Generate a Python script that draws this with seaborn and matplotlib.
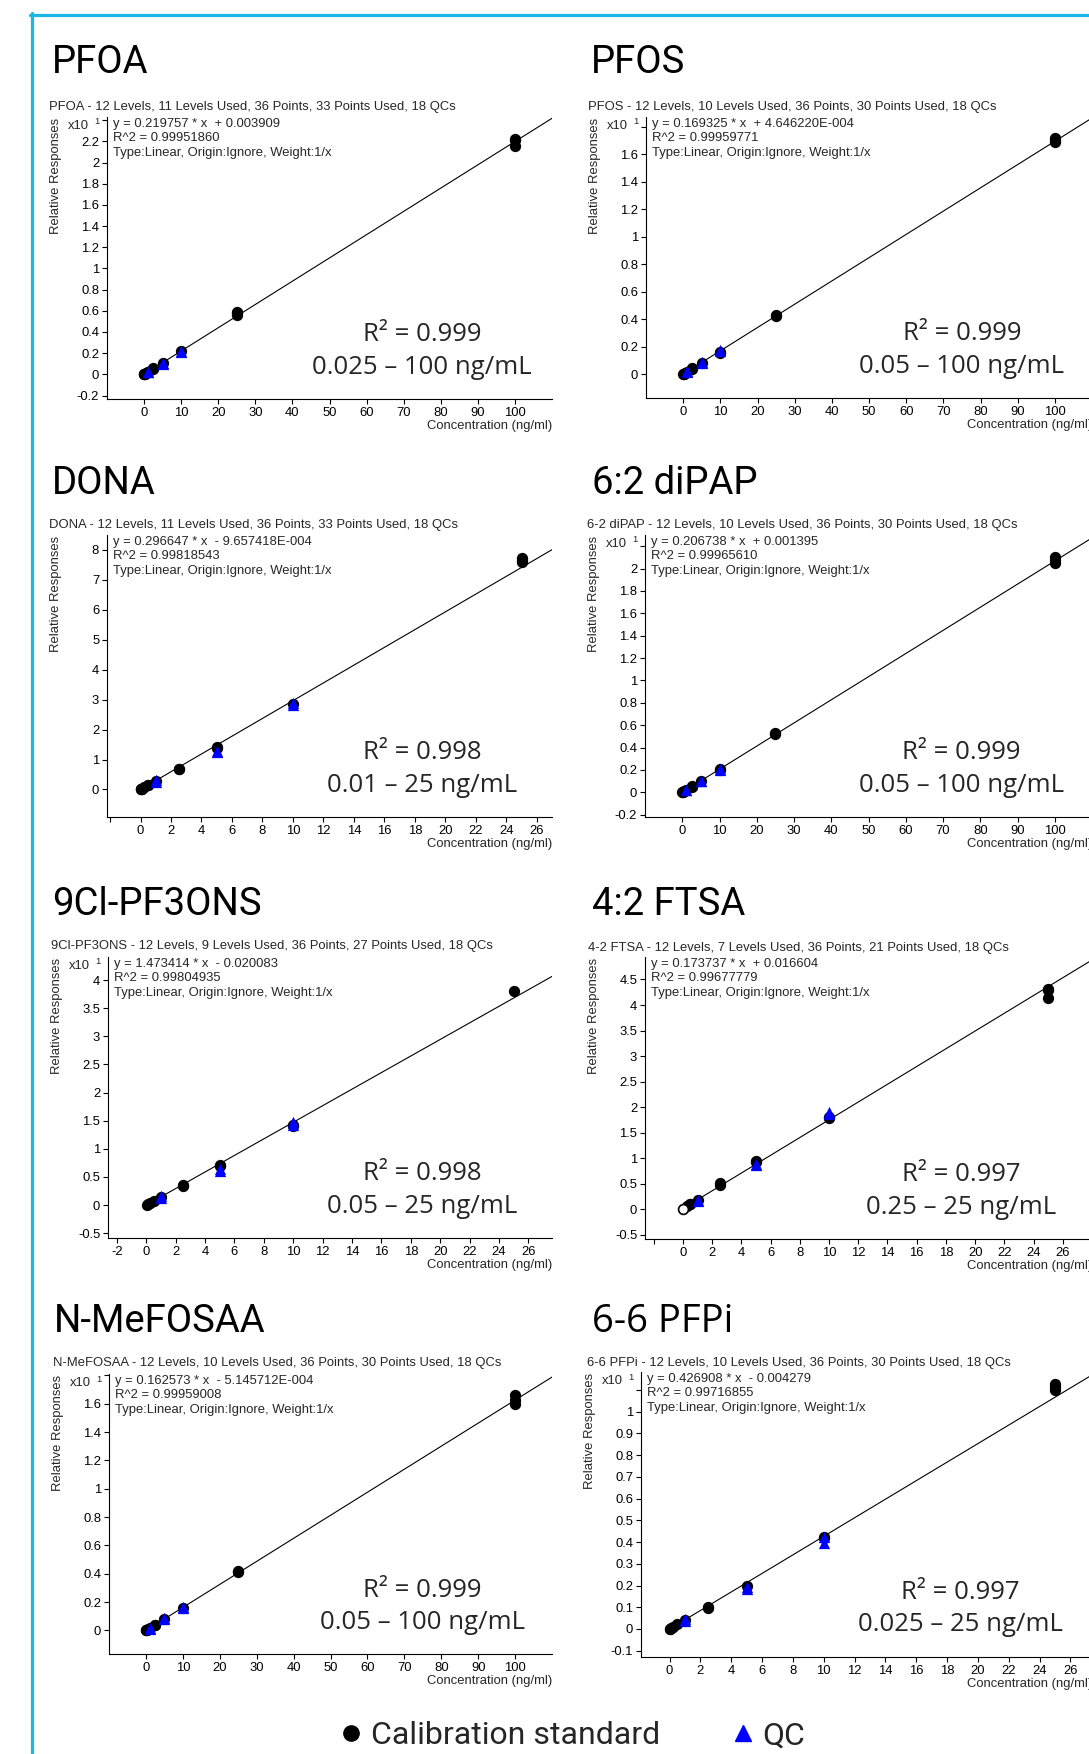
import matplotlib
matplotlib.use("Agg")
import matplotlib.pyplot as plt
from matplotlib.lines import Line2D
import numpy as np
import pandas as pd
import seaborn as sns

W, H = 1089, 1754

# ---------------------------------------------------------------------------
# data (responses in displayed units, i.e. already divided by 10**exponent)
# ---------------------------------------------------------------------------
compounds = ["PFOA", "PFOS", "DONA", "6:2 diPAP",
             "9Cl-PF3ONS", "4:2 FTSA", "N-MeFOSAA", "6-6 PFPi"]
report_names = ["PFOA", "PFOS", "DONA", "6-2 diPAP",
                "9Cl-PF3ONS", "4-2 FTSA", "N-MeFOSAA", "6-6 PFPi"]
levels_used = [11, 10, 11, 10, 9, 7, 10, 10]
points_used = [33, 30, 33, 30, 27, 21, 30, 30]
slopes = [0.219757, 0.169325, 0.296647, 0.206738,
          1.473414, 0.173737, 0.162573, 0.426908]
intercepts = [0.003909, 4.646220e-004, -9.657418e-004, 0.001395,
              -0.020083, 0.016604, -5.145712e-004, -0.004279]
intercept_text = ["+ 0.003909", "+ 4.646220E-004", "- 9.657418E-004", "+ 0.001395",
                  "- 0.020083", "+ 0.016604", "- 5.145712E-004", "- 0.004279"]
r2_full = ["0.99951860", "0.99959771", "0.99818543", "0.99965610",
           "0.99804935", "0.99677779", "0.99959008", "0.99716855"]
r2_short = ["0.999", "0.999", "0.998", "0.999", "0.998", "0.997", "0.999", "0.997"]
ranges = ["0.025 \u2013 100 ng/mL", "0.05 \u2013 100 ng/mL", "0.01 \u2013 25 ng/mL",
          "0.05 \u2013 100 ng/mL", "0.05 \u2013 25 ng/mL", "0.25 \u2013 25 ng/mL",
          "0.05 \u2013 100 ng/mL", "0.025 \u2013 25 ng/mL"]
y_exponent = [1, 1, 0, 1, 1, 0, 1, 1]

pfoa_cal_x = [0.025, 0.05, 0.1, 0.25, 0.5, 1, 1, 2.5, 2.5, 5, 10, 25, 25, 25, 100, 100, 100]
pfoa_cal_y = [0.001, 0.001, 0.002, 0.006, 0.011, 0.022, 0.023, 0.055, 0.057, 0.11, 0.22,
              0.56, 0.575, 0.585, 2.22, 2.21, 2.155]
pfoa_qc_x = [1, 1, 5, 5, 10, 10]
pfoa_qc_y = [0.021, 0.024, 0.100, 0.105, 0.212, 0.218]

pfos_cal_x = [0.05, 0.1, 0.25, 0.5, 1, 2.5, 2.5, 5, 10, 10, 25, 25, 100, 100, 100]
pfos_cal_y = [0.001, 0.002, 0.004, 0.008, 0.017, 0.040, 0.042, 0.083, 0.155, 0.160,
              0.425, 0.430, 1.715, 1.700, 1.685]
pfos_qc_x = [1, 1, 5, 5, 10, 10]
pfos_qc_y = [0.016, 0.020, 0.080, 0.085, 0.165, 0.172]

dona_cal_x = [0.01, 0.025, 0.05, 0.1, 0.25, 0.5, 0.5, 1, 2.5, 2.5, 5, 5, 10, 25, 25, 25]
dona_cal_y = [0.003, 0.007, 0.015, 0.03, 0.075, 0.14, 0.15, 0.29, 0.68, 0.70, 1.40, 1.42,
              2.86, 7.60, 7.68, 7.74]
dona_qc_x = [1, 1, 5, 5, 10, 10]
dona_qc_y = [0.25, 0.30, 1.26, 1.30, 2.82, 2.88]

dipap_cal_x = [0.05, 0.1, 0.25, 0.5, 1, 2.5, 2.5, 5, 10, 10, 25, 25, 100, 100, 100]
dipap_cal_y = [0.001, 0.002, 0.005, 0.010, 0.021, 0.052, 0.055, 0.103, 0.200, 0.205,
               0.520, 0.530, 2.100, 2.080, 2.050]
dipap_qc_x = [1, 1, 5, 5, 10, 10]
dipap_qc_y = [0.018, 0.025, 0.100, 0.105, 0.200, 0.212]

cl_cal_x = [0.05, 0.1, 0.25, 0.5, 1, 2.5, 2.5, 5, 5, 10, 10, 25]
cl_cal_y = [0.005, 0.012, 0.035, 0.07, 0.14, 0.345, 0.36, 0.70, 0.72, 1.40, 1.43, 3.80]
cl_qc_x = [1, 1, 5, 5, 10, 10]
cl_qc_y = [0.13, 0.16, 0.61, 0.64, 1.43, 1.47]

ftsa_cal_x = [0.25, 0.5, 0.5, 1, 2.5, 2.5, 5, 5, 10, 10, 25, 25, 25]
ftsa_cal_y = [0.06, 0.10, 0.11, 0.19, 0.48, 0.51, 0.92, 0.95, 1.79, 1.81, 4.32, 4.30, 4.14]
ftsa_qc_x = [1, 1, 5, 5, 10, 10]
ftsa_qc_y = [0.16, 0.19, 0.86, 0.89, 1.86, 1.90]
ftsa_excl_x = [0.025]
ftsa_excl_y = [0.002]

mefosaa_cal_x = [0.05, 0.1, 0.25, 0.5, 1, 2.5, 2.5, 5, 10, 25, 25, 100, 100, 100]
mefosaa_cal_y = [0.001, 0.002, 0.004, 0.008, 0.016, 0.038, 0.042, 0.080, 0.160,
                 0.410, 0.420, 1.665, 1.630, 1.600]
mefosaa_qc_x = [1, 1, 5, 5, 10, 10]
mefosaa_qc_y = [0.010, 0.018, 0.078, 0.085, 0.160, 0.168]

pfpi_cal_x = [0.025, 0.05, 0.1, 0.25, 0.5, 1, 2.5, 2.5, 5, 10, 10, 25, 25, 25]
pfpi_cal_y = [0.001, 0.002, 0.004, 0.010, 0.021, 0.042, 0.097, 0.102, 0.200, 0.420,
              0.425, 1.130, 1.115, 1.100]
pfpi_qc_x = [1, 1, 5, 5, 10, 10]
pfpi_qc_y = [0.038, 0.045, 0.183, 0.195, 0.395, 0.425]

cal_x = [pfoa_cal_x, pfos_cal_x, dona_cal_x, dipap_cal_x, cl_cal_x, ftsa_cal_x, mefosaa_cal_x, pfpi_cal_x]
cal_y = [pfoa_cal_y, pfos_cal_y, dona_cal_y, dipap_cal_y, cl_cal_y, ftsa_cal_y, mefosaa_cal_y, pfpi_cal_y]
qc_x = [pfoa_qc_x, pfos_qc_x, dona_qc_x, dipap_qc_x, cl_qc_x, ftsa_qc_x, mefosaa_qc_x, pfpi_qc_x]
qc_y = [pfoa_qc_y, pfos_qc_y, dona_qc_y, dipap_qc_y, cl_qc_y, ftsa_qc_y, mefosaa_qc_y, pfpi_qc_y]

# ---------------------------------------------------------------------------
# layout (pixels in the 1089 x 1754 canvas)
# ---------------------------------------------------------------------------
axes_box = [(107, 117, 552, 399), (646, 117, 1092, 398),
            (107, 535, 552, 817), (645, 535, 1092, 817),
            (108, 957, 552, 1238), (645, 957, 1092, 1239),
            (109, 1374, 552, 1654), (641, 1372, 1092, 1657)]
title_pos = [(52, 73), (591, 73), (52, 494), (592, 494),
             (52, 915), (592, 915), (54, 1332), (592, 1332)]
sub_pos = [(49, 110), (588, 110), (49, 528), (587, 528),
           (51, 949), (588, 951), (53, 1366), (587, 1366)]
xlims = [(-10, 110), (-10, 110), (-2.2, 27), (-10, 110),
         (-2.6, 27.6), (-2.6, 28), (-10, 110), (-1.85, 27.4)]
ylims = [(-0.233, 2.43), (-0.174, 1.87), (-0.92, 8.5), (-0.22, 2.30),
         (-0.586, 4.41), (-0.58, 4.94), (-0.166, 1.81), (-0.129, 1.183)]
xtick_spec = [(0, 100, 10), (0, 100, 10), (-2, 26, 2), (0, 100, 10),
              (-2, 26, 2), (-2, 26, 2), (0, 100, 10), (0, 26, 2)]
xtick_hide_first = [False, False, True, False, False, True, False, False]
ytick_spec = [(-0.2, 2.4, 0.2), (0, 1.8, 0.2), (0, 8, 1), (-0.2, 2.2, 0.2),
              (-0.5, 4, 0.5), (-0.5, 4.5, 0.5), (0, 1.8, 0.2), (-0.1, 1.1, 0.1)]
ytick_hide_top = [True, True, False, True, False, False, True, True]
title_fonts = [["Roboto"]] * 7 + [["Open Sans"]]

BORDER = "#19b6e6"
SMALL = ["Liberation Sans", "DejaVu Sans"]
SMALL_SIZE = 9.4

sns.set_style("ticks")
plt.rcParams.update({
    "font.family": SMALL,
    "axes.linewidth": 0.8,
    "axes.edgecolor": "black",
    "xtick.major.size": 3.6,
    "ytick.major.size": 3.6,
    "xtick.major.width": 0.8,
    "ytick.major.width": 0.8,
    "xtick.major.pad": 2.3,
    "ytick.major.pad": 2.0,
    "xtick.labelsize": SMALL_SIZE,
    "ytick.labelsize": SMALL_SIZE,
    "xtick.color": "black",
    "ytick.color": "black",
})

fig = plt.figure(figsize=(W / 100, H / 100), dpi=100)


def fx(px):
    return px / W


def fy(py):
    return 1 - py / H


for i, name in enumerate(compounds):
    l, t, r, b = axes_box[i]
    ax = fig.add_axes([fx(l), fy(b), (r - l) / W, (b - t) / H])
    ax.set_facecolor("none")
    sns.despine(ax=ax)

    # regression line from the reported equation
    x0, x1 = 0, xlims[i][1]
    scale = 10 ** y_exponent[i]
    fit = pd.DataFrame({
        "x": [x0, x1],
        "y": [(slopes[i] * x0 + intercepts[i]) / scale,
              (slopes[i] * x1 + intercepts[i]) / scale],
    })
    sns.lineplot(data=fit, x="x", y="y", ax=ax, color="black", linewidth=0.8, zorder=2)

    cal = pd.DataFrame({"x": cal_x[i], "y": cal_y[i]})
    sns.scatterplot(data=cal, x="x", y="y", ax=ax, marker="o", s=66,
                    color="black", linewidth=0, zorder=3)
    if name == "4:2 FTSA":
        excl = pd.DataFrame({"x": ftsa_excl_x, "y": ftsa_excl_y})
        sns.scatterplot(data=excl, x="x", y="y", ax=ax, marker="o", s=50,
                        facecolor="white", edgecolor="black", linewidth=1.2, zorder=3)
    qc = pd.DataFrame({"x": qc_x[i], "y": qc_y[i]})
    sns.scatterplot(data=qc, x="x", y="y", ax=ax, marker="^", s=66,
                    color="#0000ff", linewidth=0, zorder=4)

    ax.set_xlim(*xlims[i])
    ax.set_ylim(*ylims[i])
    ax.set_xlabel("")
    ax.set_ylabel("")

    a, z, st = xtick_spec[i]
    xt = np.round(np.arange(a, z + st / 2, st), 3)
    ax.set_xticks(xt)
    xl = [f"{v:g}" for v in xt]
    if xtick_hide_first[i]:
        xl[0] = ""
    ax.set_xticklabels(xl)

    a, z, st = ytick_spec[i]
    yt = np.round(np.arange(a, z + st / 2, st), 3)
    ax.set_yticks(yt)
    yl = ["0" if abs(v) < 1e-9 else f"{v:g}" for v in yt]
    if ytick_hide_top[i]:
        yl[-1] = ""
    ax.set_yticklabels(yl)

    # big compound name and report header
    tx, ty = title_pos[i]
    fig.text(fx(tx), fy(ty), name, fontsize=27.5, family=title_fonts[i],
             ha="left", va="baseline", color="black")
    sx, sy = sub_pos[i]
    fig.text(fx(sx), fy(sy),
             f"{report_names[i]} - 12 Levels, {levels_used[i]} Levels Used, "
             f"36 Points, {points_used[i]} Points Used, 18 QCs",
             fontsize=SMALL_SIZE, ha="left", va="baseline")

    # equation block
    eq_lines = [f"y = {slopes[i]:.6f} * x  {intercept_text[i]}",
                f"R^2 = {r2_full[i]}",
                "Type:Linear, Origin:Ignore, Weight:1/x"]
    for k, line in enumerate(eq_lines):
        fig.text(fx(l + 6), fy(t + 7 + 14.4 * k), line, fontsize=SMALL_SIZE,
                 ha="left", va="center")

    # axis labels
    fig.text(fx(l - 51), fy(t + 1), "Relative Responses", fontsize=SMALL_SIZE,
             rotation=90, ha="center", va="top")
    ax.annotate("Concentration (ng/ml)", xy=(1, 0), xycoords="axes fraction",
                xytext=(0, -27 * 0.72), textcoords="offset points",
                ha="right", va="center", fontsize=SMALL_SIZE, annotation_clip=False)
    if y_exponent[i]:
        fig.text(fx(l - 18), fy(t + 9), "x10", fontsize=SMALL_SIZE, ha="right", va="center")
        fig.text(fx(l - 10), fy(t + 5), str(y_exponent[i]), fontsize=6.8,
                 ha="center", va="center")

    # R2 and range annotation
    ax.text(0.708, 0.228, f"R\u00b2 = {r2_short[i]}", transform=ax.transAxes,
            fontsize=18.5, family=["Open Sans", "DejaVu Sans"],
            ha="center", va="center")
    ax.text(0.708, 0.113, ranges[i], transform=ax.transAxes,
            fontsize=18.5, family=["Open Sans", "DejaVu Sans"],
            ha="center", va="center")

# cyan frame on the top and left
fig.add_artist(Line2D([fx(31.5), fx(31.5)], [fy(13), fy(H + 5)],
                      transform=fig.transFigure, color=BORDER, linewidth=2.3))
fig.add_artist(Line2D([fx(30), fx(W + 5)], [fy(14.5), fy(14.5)],
                      transform=fig.transFigure, color=BORDER, linewidth=2.3))

# shared legend
handles = [
    Line2D([], [], marker="o", color="black", linestyle="None", markersize=11),
    Line2D([], [], marker="^", color="#0000ff", linestyle="None", markersize=12),
]
fig.legend(handles, ["Calibration standard", "QC"], loc="center",
           bbox_to_anchor=(fx(575), fy(1736)), ncol=2, frameon=False,
           prop={"family": ["Roboto", "Liberation Sans"], "size": 23},
           handlelength=0.4, handletextpad=0.42, columnspacing=2.4,
           borderpad=0, borderaxespad=0)

fig.savefig("out.png", dpi=100)
